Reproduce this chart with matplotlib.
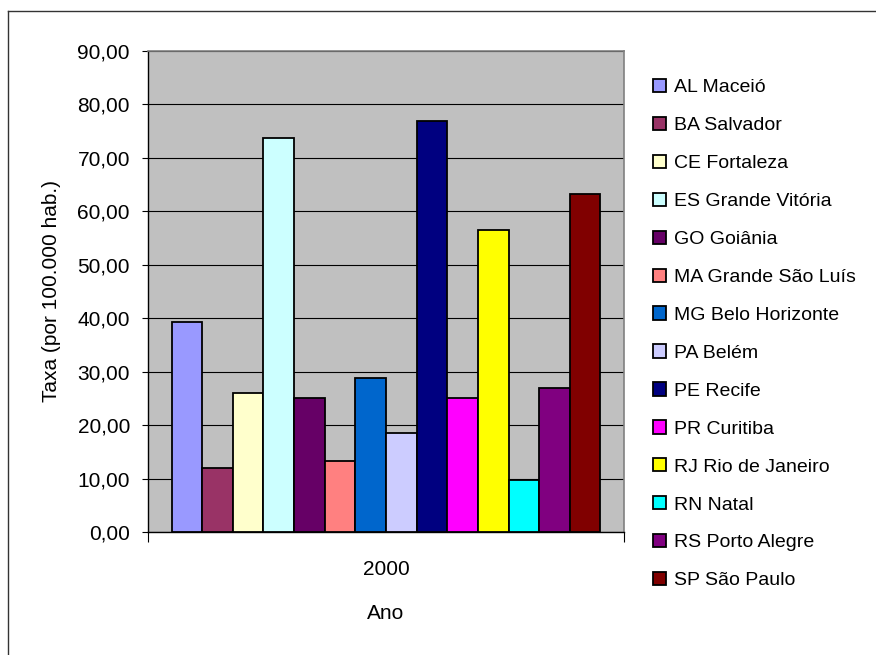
import numpy as np
import matplotlib
matplotlib.use("Agg")
import matplotlib.pyplot as plt
from matplotlib.lines import Line2D

plt.rcParams["font.family"] = ["Liberation Sans", "DejaVu Sans"]

# data
cities = ["AL Maceió", "BA Salvador", "CE Fortaleza", "ES Grande Vitória",
          "GO Goiânia", "MA Grande São Luís", "MG Belo Horizonte", "PA Belém",
          "PE Recife", "PR Curitiba", "RJ Rio de Janeiro", "RN Natal",
          "RS Porto Alegre", "SP São Paulo"]
rates = [39.3, 11.9, 26.1, 73.8, 25.0, 13.3, 28.8, 18.6,
         76.9, 25.0, 56.6, 9.7, 26.9, 63.2]
colors = ["#9999FF", "#993366", "#FFFFCC", "#CCFFFF", "#660066", "#FF8080",
          "#0066CC", "#CCCCFF", "#000080", "#FF00FF", "#FFFF00", "#00FFFF",
          "#800080", "#800000"]
year_label = "2000"
yticks = np.arange(0, 91, 10)

W, H = 876, 655
fig = plt.figure(figsize=(W / 100, H / 100), dpi=100)
fig.set_facecolor("white")

# plot area in pixels: x 148..624, y 51..532
ax = fig.add_axes([148 / W, (H - 532) / H, (624 - 148) / W, (532 - 51) / H])
ax.set_facecolor("#C0C0C0")
ax.set_xlim(-0.5, 0.5)
ax.set_ylim(0, 90)

n = len(rates)
bw = 0.901 / n
offsets = (np.arange(n) - (n - 1) / 2.0) * bw
handles = []
for off, v, c, lab in zip(offsets, rates, colors, cities):
    b = ax.bar(off, v, width=bw, color=c, edgecolor="black", linewidth=1.3,
               label=lab, zorder=3)
    handles.append(b)

# grid
ax.set_yticks(yticks)
ax.set_yticklabels([f"{t:.2f}".replace(".", ",") for t in yticks])
ax.yaxis.grid(True, color="black", linewidth=0.8, zorder=1)
ax.set_axisbelow(True)

for s in ["top", "right"]:
    ax.spines[s].set_color("#808080")
    ax.spines[s].set_linewidth(1.2)
for s in ["left", "bottom"]:
    ax.spines[s].set_color("black")
    ax.spines[s].set_linewidth(1.0)

ax.tick_params(axis="y", direction="out", length=4, width=0.8, pad=9,
               labelsize=15, colors="black")
ax.set_xticks([0])
ax.set_xticklabels([year_label])
ax.set_xticks([-0.5, 0.5], minor=True)
ax.tick_params(axis="x", which="major", length=0, pad=20, labelsize=15)
ax.tick_params(axis="x", which="minor", length=7, width=0.8, direction="out")

ax.set_ylabel("Taxa (por 100.000 hab.)", fontsize=15, labelpad=12)
ax.set_xlabel("Ano", fontsize=15, labelpad=18)

leg = ax.legend(handles=handles, labels=cities, loc="upper left",
                bbox_to_anchor=(653 / W, 1 - 79 / H), bbox_transform=fig.transFigure,
                frameon=False, fontsize=14, handlelength=0.68, handleheight=0.68,
                handletextpad=0.4, labelspacing=1.05, borderpad=0, borderaxespad=0)

# outer chart frame
fig.add_artist(Line2D([8 / W, 8 / W], [0, 1 - 11 / H], color="#333333", lw=1.0))
fig.add_artist(Line2D([8 / W, 1], [1 - 11 / H, 1 - 11 / H], color="#333333", lw=1.0))

fig.savefig("out.png", dpi=100)
plt.close(fig)
